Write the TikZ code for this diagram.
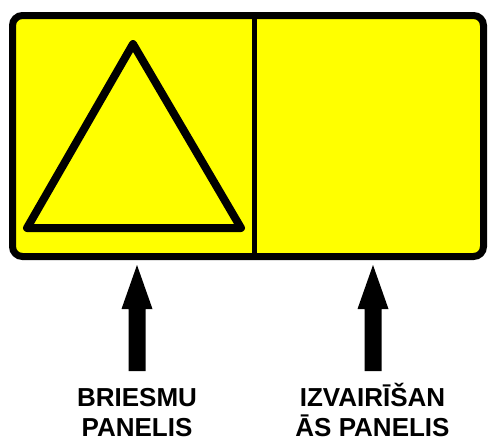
\documentclass[tikz,border=0pt]{standalone}
\usepackage{fontspec}
\setmainfont{Liberation Sans}
\definecolor{signyellow}{RGB}{255,255,0}
\begin{document}
\begin{tikzpicture}[x=1pt,y=-1pt,
  panelline/.style={draw=black,line width=7pt},
  blockarrow/.style={fill=black},
  label/.style={font=\fontsize{26}{30}\selectfont\bfseries,align=center,inner sep=0pt,anchor=base}]
\useasboundingbox (0,0) rectangle (489,437);
% outer sign
\draw[panelline,fill=signyellow,rounded corners=10pt] (12.5,15.5) rectangle (483.5,256.5);
% divider
\coordinate (dtop) at (254,15.5);
\coordinate (dbot) at (254,256.5);
\draw[black,line width=5pt] (dtop) -- (dbot);
% triangle
\coordinate (apex) at (133,44);
\coordinate (bl) at (27,228);
\coordinate (br) at (241,228);
\draw[black,line width=8pt,line join=round] (apex) -- (bl) -- (br) -- cycle;
% arrows
\coordinate (tipL) at (137,265);
\coordinate (tipR) at (373,265);
\fill[blockarrow] (tipL) -- ++(15.5,44) -- ++(-7,0) -- ++(0,62) -- ++(-17,0) -- ++(0,-62) -- ++(-7,0) -- cycle;
\fill[blockarrow] (tipR) -- ++(15.5,44) -- ++(-7,0) -- ++(0,62) -- ++(-17,0) -- ++(0,-62) -- ++(-7,0) -- cycle;
% labels
\node[label] (lblL) at (137,436) {BRIESMU\\PANELIS};
\node[label] (lblR) at (372.5,436) {IZVAIRĪŠAN\\ĀS PANELIS};
\end{tikzpicture}
\end{document}
